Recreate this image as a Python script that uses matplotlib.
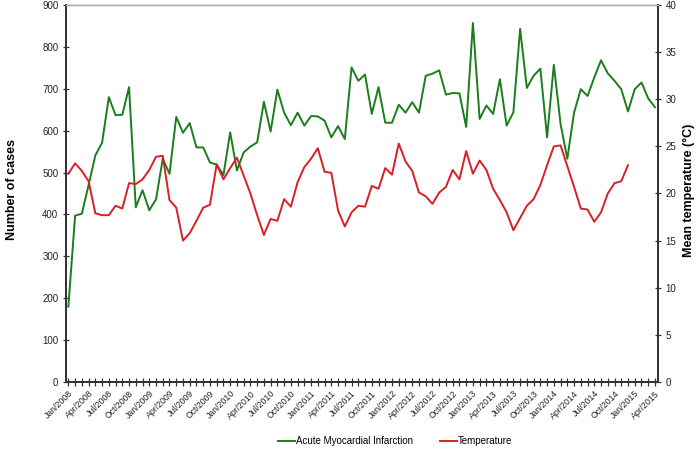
import matplotlib
matplotlib.use("Agg")
import matplotlib.pyplot as plt
import numpy as np

plt.rcParams["font.family"] = ["Liberation Sans", "DejaVu Sans"]

# monthly values, Jan/2008 .. Apr/2015
ami_cases = [180, 397, 402, 470, 541, 571, 680, 637, 638, 704,
             417, 458, 410, 436, 533, 497, 633, 595, 618, 560,
             560, 524, 519, 494, 596, 505, 548, 562, 572, 669,
             598, 698, 643, 613, 643, 612, 635, 634, 624, 584,
             611, 580, 751, 719, 734, 640, 704, 619, 619, 662,
             643, 668, 643, 731, 736, 744, 686, 690, 689, 609,
             857, 628, 660, 640, 723, 612, 644, 843, 702, 731,
             748, 584, 757, 616, 533, 643, 699, 683, 727, 768,
             737, 719, 699, 646, 699, 715, 677, 656]

# Jan/2008 .. Dec/2014
temperature = [22.1, 23.2, 22.4, 21.3, 17.9, 17.7, 17.7, 18.7, 18.4, 21.1,
               21.0, 21.5, 22.5, 23.9, 24.0, 19.3, 18.5, 15.0, 15.8, 17.1,
               18.5, 18.8, 23.1, 21.5, 22.7, 23.8, 21.9, 20.0, 17.7, 15.6,
               17.3, 17.1, 19.4, 18.6, 21.2, 22.8, 23.7, 24.8, 22.3, 22.2,
               18.2, 16.5, 18.0, 18.7, 18.6, 20.8, 20.5, 22.7, 22.0, 25.3,
               23.4, 22.4, 20.1, 19.7, 18.9, 20.1, 20.7, 22.5, 21.5, 24.5,
               22.1, 23.5, 22.5, 20.5, 19.3, 18.0, 16.1, 17.4, 18.7, 19.4,
               20.9, 23.0, 25.0, 25.1, 22.9, 20.7, 18.4, 18.3, 17.0, 18.0,
               20.0, 21.1, 21.3, 23.0]

tick_labels = ["Jan/2008", "Apr/2008", "Jul/2008", "Oct/2008",
               "Jan/2009", "Apr/2009", "Jul/2009", "Oct/2009",
               "Jan/2010", "Apr/2010", "Jul/2010", "Oct/2010",
               "Jan/2011", "Apr/2011", "Jul/2011", "Oct/2011",
               "Jan/2012", "Apr/2012", "Jul/2012", "Oct/2012",
               "Jan/2013", "Apr/2013", "Jul/2013", "Oct/2013",
               "Jan/2014", "Apr/2014", "Jul/2014", "Oct/2014",
               "Jan/2015", "Apr/2015"]

green = "#1b7d1b"
red = "#d91f26"
axis_col = "#333333"

x_ami = np.arange(len(ami_cases))
x_temp = np.arange(len(temperature))

fig = plt.figure(figsize=(7, 4.59), dpi=100)
ax = fig.add_axes([66 / 700, 1 - 382 / 459, 592 / 700, 377 / 459])
ax2 = ax.twinx()

l1, = ax.plot(x_ami, ami_cases, color=green, lw=1.4, label="Acute Myocardial Infarction")
l2, = ax2.plot(x_temp, temperature, color=red, lw=1.4, label="Temperature")

ax.set_xlim(-0.35, 87.45)
ax.set_ylim(0, 900)
ax2.set_ylim(0, 40)

ax.set_xticks(np.arange(len(ami_cases)), minor=True)
ax.set_xticks(np.arange(0, len(ami_cases), 3))
ax.set_xticklabels(tick_labels, rotation=45, ha="right", va="top",
                   rotation_mode="anchor", fontsize=6.3, color="#222222")
ax.tick_params(axis="x", which="both", direction="inout", length=6,
               width=0.9, color=axis_col, pad=2)

ax.set_yticks(np.arange(0, 901, 100))
ax.tick_params(axis="y", direction="inout", length=5, width=0.9,
               color=axis_col, labelsize=7, labelcolor="#222222", pad=3)
ax2.set_yticks(np.arange(0, 41, 5))
ax2.tick_params(axis="y", direction="inout", length=5, width=0.9,
                color=axis_col, labelsize=7, labelcolor="#222222", pad=3)

for a in (ax, ax2):
    a.spines["top"].set_color("#b0b0b0")
    a.spines["top"].set_linewidth(1.0)
    for s in ("left", "right", "bottom"):
        a.spines[s].set_color(axis_col)
        a.spines[s].set_linewidth(1.3)

fig.text(12 / 700, 1 - 190 / 459, "Number of cases", rotation=90,
         ha="center", va="center", fontsize=9, fontweight="bold")
fig.text(689 / 700, 1 - 190 / 459, "Mean temperature (°C)", rotation=90,
         ha="center", va="center", fontsize=9, fontweight="bold")

fig.legend(handles=[l1, l2], loc="center", bbox_to_anchor=(395 / 700, 1 - 441 / 459),
           ncol=2, frameon=False, fontsize=7, handlelength=1.75,
           handletextpad=0.1, columnspacing=2.8)

fig.savefig("out.png", dpi=100)
